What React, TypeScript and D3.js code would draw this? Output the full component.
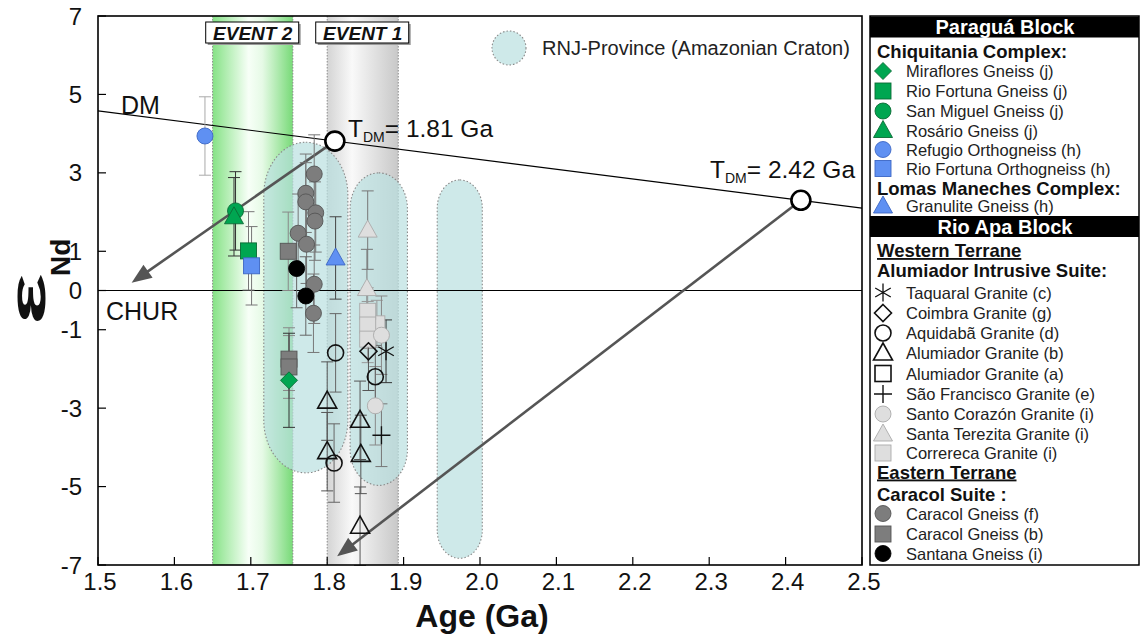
import React from "react";
import * as d3 from "d3";

// ---------------- data ----------------
const xTickValues = [1.5, 1.6, 1.7, 1.8, 1.9, 2.0, 2.1, 2.2, 2.3, 2.4, 2.5];
const xTickLabels = ["1.5", "1.6", "1.7", "1.8", "1.9", "2.0", "2.1", "2.2", "2.3", "2.4", "2.5"];
const yTickValues = [7, 5, 3, 1, 0, -1, -3, -5, -7];
const yTickLabels = ["7", "5", "3", "1", "0", "-1", "-3", "-5", "-7"];

const eventNames = ["EVENT 2", "EVENT 1"];
const eventStarts = [1.65, 1.8];
const eventEnds = [1.755, 1.893];

// RNJ-Province envelopes: [ageMin, ageMax, epsTop, epsBottom]
const rnjEnvelopes = [
  [1.717, 1.827, 3.78, -4.65],
  [1.83, 1.905, 3.0, -4.97],
  [1.944, 2.003, 2.82, -6.83],
];

const dmLine = [[1.5, 4.58], [2.5, 2.1]];
const churLine = [[1.5, 0], [2.5, 0]];
const tdmAges = [1.81, 2.42];
const tdmEps = [3.81, 2.3];
const tdmLabels = ["1.81 Ga", "2.42 Ga"];
const arrowTips = [[1.544, 0.2], [1.813, -6.78]];

// points: [age (Ga), eNd, error]
const mirafloresGneiss = [[1.75, -2.29, 1.2]];
const rioFortunaGneiss = [[1.697, 1.01, 1.0]];
const sanMiguelGneiss = [[1.68, 2.03, 1.0]];
const rosarioGneiss = [[1.678, 1.88, 1.0]];
const refugioOrthogneiss = [[1.64, 3.94, 1.0]];
const rioFortunaOrthogneiss = [[1.701, 0.63, 1.0]];
const granuliteGneiss = [[1.811, 0.83, 1.05]];
const taquaralGranite = [[1.877, -1.55, 0.8]];
const coimbraGranite = [[1.854, -1.55, 1.0]];
const aquidabaGranite = [[1.811, -1.59, 1.0], [1.863, -2.2, 0.8], [1.809, -4.4, 1.0]];
const alumiadorGraniteB = [[1.8, -2.82, 1.0], [1.8, -4.11, 1.0], [1.843, -3.31, 1.0], [1.844, -4.18, 1.0], [1.843, -6.01, 1.0]];
const alumiadorGraniteA: number[][] = [];
const saoFranciscoGranite = [[1.871, -3.69, 0.8]];
const santoCorazonGranite = [[1.871, -1.14, 1.0], [1.863, -2.94, 1.0]];
const santaTerezitaGranite = [[1.853, 1.54, 1.0], [1.852, 0.05, 1.0]];
const correrecaGranite = [[1.865, -0.85, 0.6], [1.853, -0.53, 0.6], [1.853, -0.88, 0.6], [1.853, -1.24, 0.6]];
const caracolGneissF = [
  [1.783, 2.97, 1.0], [1.772, 2.48, 1.0], [1.772, 2.26, 1.0], [1.785, 1.98, 1.0], [1.784, 1.77, 1.0],
  [1.762, 1.46, 1.0], [1.773, 1.18, 1.0], [1.783, 0.16, 1.0], [1.782, -0.58, 1.0],
];
const caracolGneissB = [[1.749, 1.0, 1.0], [1.75, -1.75, 0.8], [1.75, -1.95, 0.8]];
const santanaGneiss = [[1.76, 0.56, 1.0], [1.772, -0.14, 1.0]];

// ---------------- styles ----------------
const GREEN = "#00a651";
const DKGREEN = "#0b6b35";
const BLUE = "#5f90f2";
const DKBLUE = "#3c66c4";
const GRAY = "#7d7d7d";
const LGRAY = "#dedede";
const FONT = "'Liberation Sans', Arial, Helvetica, sans-serif";

type Sym = "circle" | "square" | "triangle" | "diamond" | "plus" | "asterisk";
interface Series { key: string; label: string; data: number[][]; sym: Sym; fill: string; stroke: string; err: string; }

const S: Record<string, Series> = {
  mir: { key: "mir", label: "Miraflores Gneiss (j)", data: mirafloresGneiss, sym: "diamond", fill: GREEN, stroke: DKGREEN, err: "#333" },
  rfg: { key: "rfg", label: "Rio Fortuna Gneiss (j)", data: rioFortunaGneiss, sym: "square", fill: GREEN, stroke: DKGREEN, err: "#777" },
  smg: { key: "smg", label: "San Miguel Gneiss (j)", data: sanMiguelGneiss, sym: "circle", fill: GREEN, stroke: DKGREEN, err: "#333" },
  ros: { key: "ros", label: "Rosário Gneiss (j)", data: rosarioGneiss, sym: "triangle", fill: GREEN, stroke: DKGREEN, err: "#333" },
  ref: { key: "ref", label: "Refugio Orthogneiss (h)", data: refugioOrthogneiss, sym: "circle", fill: BLUE, stroke: DKBLUE, err: "#aaa" },
  rfo: { key: "rfo", label: "Rio Fortuna Orthogneiss (h)", data: rioFortunaOrthogneiss, sym: "square", fill: BLUE, stroke: DKBLUE, err: "#777" },
  gra: { key: "gra", label: "Granulite Gneiss (h)", data: granuliteGneiss, sym: "triangle", fill: BLUE, stroke: DKBLUE, err: "#444" },
  taq: { key: "taq", label: "Taquaral Granite (c)", data: taquaralGranite, sym: "asterisk", fill: "none", stroke: "#111", err: "#333" },
  coi: { key: "coi", label: "Coimbra Granite (g)", data: coimbraGranite, sym: "diamond", fill: "none", stroke: "#111", err: "#555" },
  aqu: { key: "aqu", label: "Aquidabã Granite (d)", data: aquidabaGranite, sym: "circle", fill: "none", stroke: "#111", err: "#666" },
  alb: { key: "alb", label: "Alumiador Granite (b)", data: alumiadorGraniteB, sym: "triangle", fill: "none", stroke: "#111", err: "#555" },
  ala: { key: "ala", label: "Alumiador Granite (a)", data: alumiadorGraniteA, sym: "square", fill: "none", stroke: "#111", err: "#555" },
  sfr: { key: "sfr", label: "São Francisco Granite (e)", data: saoFranciscoGranite, sym: "plus", fill: "none", stroke: "#111", err: "#777" },
  sco: { key: "sco", label: "Santo Corazón Granite (i)", data: santoCorazonGranite, sym: "circle", fill: LGRAY, stroke: "#aaa", err: "#888" },
  ste: { key: "ste", label: "Santa Terezita Granite (i)", data: santaTerezitaGranite, sym: "triangle", fill: LGRAY, stroke: "#aaa", err: "#777" },
  cor: { key: "cor", label: "Correreca Granite (i)", data: correrecaGranite, sym: "square", fill: LGRAY, stroke: "#aaa", err: "#999" },
  caf: { key: "caf", label: "Caracol Gneiss (f)", data: caracolGneissF, sym: "circle", fill: GRAY, stroke: "#555", err: "#777" },
  cab: { key: "cab", label: "Caracol Gneiss (b)", data: caracolGneissB, sym: "square", fill: GRAY, stroke: "#555", err: "#888" },
  san: { key: "san", label: "Santana Gneiss (i)", data: santanaGneiss, sym: "circle", fill: "#000", stroke: "#000", err: "#666" },
};

const drawOrder = ["caf", "cab", "san", "mir", "smg", "ros", "rfg", "rfo", "ref", "gra", "ste", "cor", "sco", "coi", "taq", "aqu", "alb", "ala", "sfr"];

// legend rows: [type, text or series key]
const legendRows: [string, string][] = [
  ["header", "Paraguá Block"],
  ["group", "Chiquitania Complex:"],
  ["item", "mir"], ["item", "rfg"], ["item", "smg"], ["item", "ros"], ["item", "ref"], ["item", "rfo"],
  ["group", "Lomas Maneches Complex:"],
  ["item", "gra"],
  ["header", "Rio Apa Block"],
  ["under", "Western Terrane"],
  ["group", "Alumiador Intrusive Suite:"],
  ["item", "taq"], ["item", "coi"], ["item", "aqu"], ["item", "alb"], ["item", "ala"], ["item", "sfr"], ["item", "sco"], ["item", "ste"], ["item", "cor"],
  ["under", "Eastern Terrane"],
  ["group", "Caracol Suite :"],
  ["item", "caf"], ["item", "cab"], ["item", "san"],
];
const legendRowY = [27, 51, 71, 91, 111, 130.5, 149.5, 168.5, 188.5, 206, 226.5, 250.5, 270.5, 292.5, 313, 333, 353, 373.5, 394, 414, 434, 453, 472, 494, 513.5, 534, 553.5];

// ---------------- layout ----------------
const W = 1140, H = 635;
const L = 98, R = 862, T = 16, B = 565;
const x = d3.scaleLinear().domain([1.5, 2.5]).range([L, R]);
const y = d3.scaleLinear().domain([-7, 7]).range([B, T]);

function Marker({ sym, cx, cy, fill, stroke }: { sym: Sym; cx: number; cy: number; fill: string; stroke: string }) {
  const open = fill === "none";
  const sw = open ? 1.6 : 0.9;
  switch (sym) {
    case "circle":
      return <circle cx={cx} cy={cy} r={8} fill={fill} stroke={stroke} strokeWidth={sw} />;
    case "square":
      return <rect x={cx - 8} y={cy - 8} width={16} height={16} fill={fill} stroke={stroke} strokeWidth={sw} />;
    case "triangle":
      return <path d={`M${cx},${cy - 10}L${cx + 9.5},${cy + 7}L${cx - 9.5},${cy + 7}Z`} fill={fill} stroke={stroke} strokeWidth={sw} />;
    case "diamond":
      return <path d={`M${cx},${cy - 8.5}L${cx + 8.5},${cy}L${cx},${cy + 8.5}L${cx - 8.5},${cy}Z`} fill={fill} stroke={stroke} strokeWidth={sw} />;
    case "plus":
      return <path d={`M${cx - 9},${cy}H${cx + 9}M${cx},${cy - 9}V${cy + 9}`} fill="none" stroke={stroke} strokeWidth={1.4} />;
    case "asterisk": {
      const r = 9;
      const d = [90, 30, 150].map((a) => {
        const rad = (a * Math.PI) / 180;
        const dx = r * Math.cos(rad), dy = r * Math.sin(rad);
        return `M${cx - dx},${cy - dy}L${cx + dx},${cy + dy}`;
      }).join("");
      return <path d={d} fill="none" stroke={stroke} strokeWidth={1.3} />;
    }
  }
  return null;
}

function arrowHead(x0: number, y0: number, x1: number, y1: number) {
  const ang = Math.atan2(y1 - y0, x1 - x0);
  const len = 20, half = 8;
  const bx = x1 - len * Math.cos(ang), by = y1 - len * Math.sin(ang);
  const px = -Math.sin(ang) * half, py = Math.cos(ang) * half;
  return `M${x1},${y1}L${bx + px},${by + py}L${bx - px},${by - py}Z`;
}

export default function App() {
  const line = d3.line<number[]>().x((d) => x(d[0])).y((d) => y(d[1]));
  return (
    <svg width={W} height={H} style={{ position: "absolute", left: 0, top: 0, background: "#fff" }} fontFamily={FONT}>
      <defs>
        <linearGradient id="ev2" x1="0" x2="1" y1="0" y2="0">
          <stop offset="0" stopColor="#86e286" />
          <stop offset="0.45" stopColor="#f7fff7" />
          <stop offset="0.62" stopColor="#e6fae6" />
          <stop offset="1" stopColor="#78da78" />
        </linearGradient>
        <linearGradient id="ev1" x1="0" x2="1" y1="0" y2="0">
          <stop offset="0" stopColor="#d4d4d4" />
          <stop offset="0.35" stopColor="#f9f9f9" />
          <stop offset="1" stopColor="#c8c8c8" />
        </linearGradient>
        <clipPath id="plotclip">
          <rect x={L} y={T} width={R - L} height={B - T} />
        </clipPath>
      </defs>
      <rect x={0} y={0} width={W} height={H} fill="#fff" />

      {/* event bands */}
      {eventStarts.map((s, i) => (
        <g key={"ev" + i}>
          <rect x={x(s)} y={T} width={x(eventEnds[i]) - x(s)} height={B - T} fill={i === 0 ? "url(#ev2)" : "url(#ev1)"} />
          <line x1={x(s)} x2={x(s)} y1={T} y2={B} stroke="#8a8a8a" strokeDasharray="1.5,1.5" strokeWidth={1} />
          <line x1={x(eventEnds[i])} x2={x(eventEnds[i])} y1={T} y2={B} stroke="#8a8a8a" strokeDasharray="1.5,1.5" strokeWidth={1} />
        </g>
      ))}

      {/* RNJ envelopes */}
      {rnjEnvelopes.map((e, i) => {
        const x0 = x(e[0]), x1 = x(e[1]), y0 = y(e[2]), y1 = y(e[3]);
        const w = x1 - x0;
        return (
          <rect key={"env" + i} x={x0} y={y0} width={w} height={y1 - y0} rx={w / 2} ry={w / 2 * 1.25}
            fill="#b9e0e0" fillOpacity={0.7} stroke="#8a8a8a" strokeDasharray="1.5,2" strokeWidth={1.1} />
        );
      })}

      {/* reference lines */}
      <g clipPath="url(#plotclip)">
        <path d={line(churLine) || ""} stroke="#000" strokeWidth={1.2} fill="none" />
        <path d={line(dmLine) || ""} stroke="#000" strokeWidth={1.2} fill="none" />
        {tdmAges.map((a, i) => {
          const x0 = x(a), y0 = y(tdmEps[i]), x1 = x(arrowTips[i][0]), y1 = y(arrowTips[i][1]);
          const ang = Math.atan2(y1 - y0, x1 - x0);
          return (
            <g key={"arr" + i}>
              <line x1={x0} y1={y0} x2={x1 - 15 * Math.cos(ang)} y2={y1 - 15 * Math.sin(ang)} stroke="#555" strokeWidth={2.6} />
              <path d={arrowHead(x0, y0, x1, y1)} fill="#555" />
            </g>
          );
        })}
      </g>

      {/* error bars */}
      {drawOrder.map((k) => S[k].data.map((d, j) => {
        const cx = x(d[0]), yt = y(d[1] + d[2]), yb = y(d[1] - d[2]);
        return (
          <g key={k + "e" + j} stroke={S[k].err} strokeWidth={1}>
            <line x1={cx} x2={cx} y1={yt} y2={yb} />
            <line x1={cx - 6} x2={cx + 6} y1={yt} y2={yt} />
            <line x1={cx - 6} x2={cx + 6} y1={yb} y2={yb} />
          </g>
        );
      }))}

      {/* points */}
      {drawOrder.map((k) => S[k].data.map((d, j) => (
        <Marker key={k + "p" + j} sym={S[k].sym} cx={x(d[0])} cy={y(d[1])} fill={S[k].fill} stroke={S[k].stroke} />
      )))}

      {/* TDM circles and labels */}
      {tdmAges.map((a, i) => (
        <circle key={"tdm" + i} cx={x(a)} cy={y(tdmEps[i])} r={9.5} fill="#fff" stroke="#000" strokeWidth={2.6} />
      ))}
      {tdmAges.map((a, i) => (
        <text key={"tdml" + i} x={i === 0 ? 348 : 710} y={i === 0 ? 137 : 178} fontSize={24.5} fill="#111">
          T<tspan fontSize={14} dy={5}>DM</tspan><tspan dy={-5}>= {tdmLabels[i]}</tspan>
        </text>
      ))}
      <text x={121} y={114} fontSize={25} fill="#111">DM</text>
      <text x={106} y={320} fontSize={25} fill="#111">CHUR</text>

      {/* event labels */}
      {eventStarts.map((s, i) => {
        const cx = (x(s) + x(eventEnds[i])) / 2;
        return (
          <g key={"evl" + i}>
            <rect x={cx - 45} y={24} width={93} height={21} fill="#9a9a9a" />
            <rect x={cx - 47} y={22} width={93} height={21} fill="#fff" stroke="#000" strokeWidth={1} />
            <text x={cx} y={39.5} textAnchor="middle" fontSize={19} fontWeight="bold" fontStyle="italic" fill="#111">{eventNames[i]}</text>
          </g>
        );
      })}

      {/* RNJ legend */}
      <circle cx={509} cy={48} r={17} fill="#b9e0e0" fillOpacity={0.7} stroke="#8a8a8a" strokeDasharray="1.5,2" strokeWidth={1.1} />
      <text x={542} y={55} fontSize={20} fill="#222">RNJ-Province (Amazonian Craton)</text>

      {/* axes frame & ticks */}
      <rect x={L} y={T} width={R - L} height={B - T} fill="none" stroke="#000" strokeWidth={1.6} />
      {xTickValues.map((v, i) => (
        <g key={"xt" + i}>
          <line x1={x(v)} x2={x(v)} y1={B} y2={B - 8} stroke="#000" strokeWidth={1.2} />
          <text x={x(v) + 2} y={590} textAnchor="middle" fontSize={24} fill="#111">{xTickLabels[i]}</text>
        </g>
      ))}
      {yTickValues.map((v, i) => (
        <g key={"yt" + i}>
          <line x1={L} x2={L + 8} y1={y(v)} y2={y(v)} stroke="#000" strokeWidth={1.2} />
          <text x={82} y={y(v) + 8.5} textAnchor="end" fontSize={24} fill="#111">{yTickLabels[i]}</text>
        </g>
      ))}
      <text x={482} y={627} textAnchor="middle" fontSize={32} fontWeight="bold" fill="#111">Age (Ga)</text>
      <text transform="translate(45,325) rotate(-90)" fontSize={52} fontWeight="bold" fill="#111"
        textLength={52} lengthAdjust="spacingAndGlyphs">ε</text>
      <text transform="translate(70,276) rotate(-90)" fontSize={28} fontWeight="bold" fill="#111">Nd</text>

      {/* legend box */}
      <rect x={870} y={16} width={269} height={549} fill="#fff" stroke="#000" strokeWidth={1.5} />
      {legendRows.map((r, i) => {
        const cy = legendRowY[i];
        if (r[0] === "header") {
          return (
            <g key={"lg" + i}>
              <rect x={870} y={cy - 10.5} width={269} height={21} fill="#000" />
              <text x={1005} y={cy + 7} textAnchor="middle" fontSize={20} fontWeight="bold" fill="#fff">{r[1]}</text>
            </g>
          );
        }
        if (r[0] === "group" || r[0] === "under") {
          return (
            <text key={"lg" + i} x={877} y={cy + 6.5} fontSize={18.5} fontWeight="bold" fill="#111"
              style={r[0] === "under" ? { textDecoration: "underline" } : undefined}>{r[1]}</text>
          );
        }
        const s = S[r[1]];
        return (
          <g key={"lg" + i}>
            <Marker sym={s.sym} cx={883} cy={cy} fill={s.fill} stroke={s.stroke} />
            <text x={906} y={cy + 6} fontSize={16.5} fill="#222">{s.label}</text>
          </g>
        );
      })}
    </svg>
  );
}
